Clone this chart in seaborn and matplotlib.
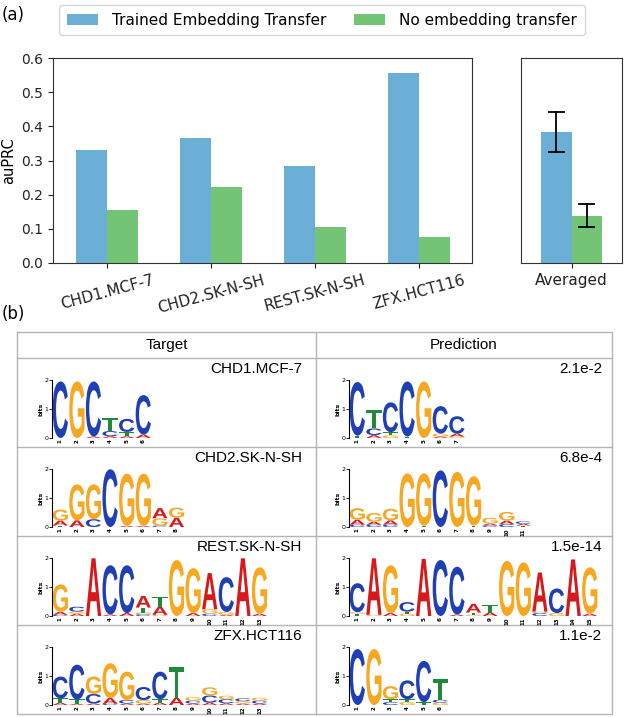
import numpy as np
import pandas as pd
import seaborn as sns
import matplotlib
matplotlib.use("Agg")
import matplotlib.pyplot as plt
from matplotlib.textpath import TextPath
from matplotlib.patches import PathPatch
from matplotlib.transforms import Affine2D
from matplotlib.font_manager import FontProperties

# bar chart data
cell_lines = ["CHD1.MCF-7", "CHD2.SK-N-SH", "REST.SK-N-SH", "ZFX.HCT116"]
methods = ["Trained Embedding Transfer", "No embedding transfer"]
trained_auprc = [0.330, 0.365, 0.283, 0.555]
no_transfer_auprc = [0.155, 0.222, 0.104, 0.075]
bar_colors = ["#6baed6", "#74c476"]

# table data
p_values = ["2.1e-2", "6.8e-4", "1.5e-14", "1.1e-2"]

# sequence logos: per position, (letter, bits) stacked bottom -> top
chd1_target = [
    [("C", 1.95)], [("G", 1.95)], [("A", 0.05), ("C", 1.9)],
    [("A", 0.06), ("C", 0.18), ("T", 0.45)],
    [("A", 0.06), ("T", 0.15), ("C", 0.45)],
    [("A", 0.12), ("C", 1.36)],
]
chd1_pred = [
    [("T", 0.08), ("C", 1.85)],
    [("A", 0.1), ("C", 0.23), ("T", 0.63)],
    [("G", 0.09), ("T", 0.11), ("C", 1.03)],
    [("T", 0.05), ("C", 1.9)], [("G", 1.95)],
    [("A", 0.05), ("G", 0.1), ("C", 0.95)],
    [("G", 0.05), ("A", 0.1), ("C", 0.6)],
]
chd2_target = [
    [("T", 0.05), ("A", 0.17), ("G", 0.38)],
    [("A", 0.23), ("G", 1.24)],
    [("C", 0.27), ("G", 1.2)],
    [("C", 1.99)],
    [("A", 0.04), ("G", 1.8)], [("A", 0.04), ("G", 1.8)],
    [("C", 0.05), ("G", 0.25), ("A", 0.35)],
    [("A", 0.32), ("G", 0.35)],
]
chd2_pred = [
    [("C", 0.08), ("A", 0.17), ("G", 0.4)],
    [("C", 0.08), ("A", 0.1), ("G", 0.3)],
    [("C", 0.08), ("A", 0.15), ("G", 0.4)],
    [("G", 1.85)], [("T", 0.05), ("G", 1.8)],
    [("C", 1.95)], [("G", 1.9)], [("T", 0.05), ("G", 1.7)],
    [("C", 0.06), ("A", 0.06), ("G", 0.2)],
    [("C", 0.1), ("A", 0.12), ("G", 0.3)],
    [("T", 0.05), ("A", 0.06), ("C", 0.08)],
]
rest_target = [
    [("C", 0.04), ("A", 0.1), ("G", 0.95)],
    [("A", 0.08), ("G", 0.07), ("C", 0.17)],
    [("A", 1.99)], [("A", 0.05), ("C", 1.7)], [("A", 0.1), ("C", 1.65)],
    [("C", 0.06), ("G", 0.06), ("T", 0.17), ("A", 0.4)],
    [("G", 0.04), ("A", 0.28), ("T", 0.35)],
    [("G", 1.93)], [("A", 0.1), ("G", 1.55)],
    [("C", 0.08), ("G", 0.15), ("A", 1.25)],
    [("A", 0.04), ("G", 0.1), ("C", 1.2)],
    [("A", 1.99)], [("A", 0.08), ("G", 1.6)],
]
rest_pred = [
    [("T", 0.08), ("G", 0.05), ("C", 1.0)],
    [("G", 0.04), ("A", 1.95)], [("A", 0.1), ("G", 1.65)],
    [("G", 0.08), ("T", 0.07), ("C", 0.33)],
    [("A", 1.97)], [("C", 1.93)], [("A", 0.05), ("C", 1.65)],
    [("G", 0.04), ("T", 0.08), ("A", 0.3)],
    [("A", 0.12), ("T", 0.25)],
    [("G", 1.9)], [("G", 1.85)],
    [("C", 0.1), ("G", 0.05), ("A", 1.35)],
    [("G", 0.1), ("C", 0.85)], [("A", 1.95)], [("A", 0.08), ("G", 1.6)],
]
zfx_target = [
    [("A", 0.08), ("T", 0.15), ("C", 0.75)],
    [("A", 0.04), ("T", 0.15), ("C", 1.2)],
    [("A", 0.05), ("C", 0.33), ("G", 0.6)],
    [("C", 0.04), ("A", 0.2), ("G", 1.2)],
    [("A", 0.05), ("C", 0.12), ("G", 0.98)],
    [("A", 0.05), ("G", 0.12), ("C", 0.45)],
    [("A", 0.08), ("T", 0.12), ("C", 0.95)],
    [("A", 0.25), ("T", 1.05)],
    [("A", 0.05), ("C", 0.1), ("G", 0.12)],
    [("A", 0.08), ("C", 0.25), ("G", 0.28)],
    [("A", 0.06), ("C", 0.14), ("G", 0.12)],
    [("A", 0.05), ("G", 0.08), ("C", 0.1)],
    [("A", 0.05), ("C", 0.1), ("G", 0.1)],
]
zfx_pred = [
    [("C", 1.93)], [("G", 1.93)],
    [("C", 0.1), ("T", 0.1), ("G", 0.45)],
    [("G", 0.1), ("T", 0.1), ("C", 0.65)],
    [("T", 0.1), ("C", 1.42)],
    [("G", 0.08), ("C", 0.1), ("T", 0.7)],
]
target_logos = [chd1_target, chd2_target, rest_target, zfx_target]
pred_logos = [chd1_pred, chd2_pred, rest_pred, zfx_pred]
letter_colors = {"A": "#d7191c", "C": "#1f3fb4", "G": "#f7a823", "T": "#1f8a3a"}

W, H = 624, 717
fig = plt.figure(figsize=(W / 100, H / 100), dpi=100)

def fig_rect(x0, y0, x1, y1):
    # pixel box (top-left origin) -> figure fraction rect
    return [x0 / W, 1 - y1 / H, (x1 - x0) / W, (y1 - y0) / H]

# ---- (a) bar charts ----
df = pd.DataFrame({
    "cell": cell_lines * 2,
    "method": [methods[0]] * 4 + [methods[1]] * 4,
    "auPRC": trained_auprc + no_transfer_auprc,
})
avg_df = df.assign(cell="Averaged")

ax = fig.add_axes(fig_rect(53, 58, 472, 263))
sns.barplot(data=df, x="cell", y="auPRC", hue="method", palette=bar_colors,
            width=0.6, errorbar=None, saturation=1, ax=ax)
ax2 = fig.add_axes(fig_rect(521, 58, 622, 263))
sns.barplot(data=avg_df, x="cell", y="auPRC", hue="method", palette=bar_colors,
            width=0.6, errorbar="se", capsize=0.3, saturation=1,
            err_kws={"color": "black", "linewidth": 1.3}, ax=ax2)

handles, labels = ax.get_legend_handles_labels()
ax.get_legend().remove()
ax2.get_legend().remove()
fig.legend(handles, labels, loc="center", bbox_to_anchor=(322 / W, 1 - 20 / H),
           ncol=2, fontsize=11, handlelength=2.0, handletextpad=0.95,
           columnspacing=1.8, borderpad=0.5)

for a in (ax, ax2):
    a.set_ylim(0, 0.6)
    a.set_xlabel("")
    for s in a.spines.values():
        s.set_color("#333333")
    a.tick_params(axis="y", labelsize=10, colors="#222222")
    a.tick_params(axis="x", labelsize=11, colors="#222222")
ax.set_xlim(-0.52, 3.51)
ax.set_ylabel("auPRC", fontsize=10.5)
ax.set_yticks(np.arange(0, 0.61, 0.1))
ax.set_yticklabels([f"{v:.1f}" for v in np.arange(0, 0.61, 0.1)])
plt.setp(ax.get_xticklabels(), rotation=15)
ax2.set_xlim(-0.5, 0.5)
ax2.set_yticks([])
ax2.set_ylabel("")

fig.text(2 / W, 1 - 15 / H, "(a)", fontsize=12, va="center", ha="left")
fig.text(2 / W, 1 - 314 / H, "(b)", fontsize=12, va="center", ha="left")

# ---- (b) table with logos ----
tbl_left, tbl_right, col_split = 17, 612, 316
tbl_top, head_bottom, row_h = 332, 358, 89
grid = fig.add_axes([0, 0, 1, 1], zorder=-1)
grid.set_xlim(0, W)
grid.set_ylim(H, 0)
grid.axis("off")
line_kw = dict(color="#b4b4b4", linewidth=1)
tbl_bottom = head_bottom + 4 * row_h
grid.plot([tbl_left, tbl_right, tbl_right, tbl_left, tbl_left],
          [tbl_top, tbl_top, tbl_bottom, tbl_bottom, tbl_top], **line_kw)
grid.plot([col_split, col_split], [tbl_top, tbl_bottom], **line_kw)
for i in range(4):
    y = head_bottom + i * row_h
    grid.plot([tbl_left, tbl_right], [y, y], **line_kw)

cell_font = dict(fontsize=11, family="Liberation Sans")
grid.text((tbl_left + col_split) / 2, 345, "Target", ha="center", va="center", **cell_font)
grid.text((col_split + tbl_right) / 2, 345, "Prediction", ha="center", va="center", **cell_font)

logo_font = FontProperties(family="Liberation Sans", weight="bold")

def draw_letter(a, letter, x, y, w, h):
    tp = TextPath((0, 0), letter, size=1, prop=logo_font)
    bb = tp.get_extents()
    tr = (Affine2D().translate(-bb.x0, -bb.y0)
          .scale(w / bb.width, h / bb.height).translate(x - w / 2, y))
    a.add_patch(PathPatch(tr.transform_path(tp), facecolor=letter_colors[letter],
                          edgecolor="none"))

def draw_logo(left_px, row_top, logo):
    n = len(logo)
    a = fig.add_axes(fig_rect(left_px, row_top + 22, left_px + n * 16.6, row_top + 80))
    for pos, stack in enumerate(logo, start=1):
        base = 0.0
        for letter, h in stack:
            draw_letter(a, letter, pos, base, 0.92, h)
            base += h
    a.set_xlim(0.5, n + 0.5)
    a.set_ylim(0, 2)
    for s in ("top", "right", "bottom"):
        a.spines[s].set_visible(False)
    a.spines["left"].set_linewidth(0.8)
    a.set_yticks([0, 1, 2])
    a.set_xticks(range(1, n + 1))
    a.set_xticklabels([str(i) for i in range(1, n + 1)], rotation=90,
                      fontsize=4, fontweight="bold")
    a.tick_params(axis="y", labelsize=4.5, length=2, width=0.6, pad=0.5)
    a.tick_params(axis="x", length=0, pad=1)
    a.set_ylabel("bits", fontsize=4.5, fontweight="bold", labelpad=0.5)
    a.patch.set_alpha(0)

for i in range(4):
    row_top = head_bottom + i * row_h
    grid.text(302, row_top + 11, cell_lines[i], ha="right", va="center", **cell_font)
    grid.text(602, row_top + 11, p_values[i], ha="right", va="center", **cell_font)
    draw_logo(52, row_top, target_logos[i])
    draw_logo(349, row_top, pred_logos[i])

fig.savefig("out.png", dpi=100)
